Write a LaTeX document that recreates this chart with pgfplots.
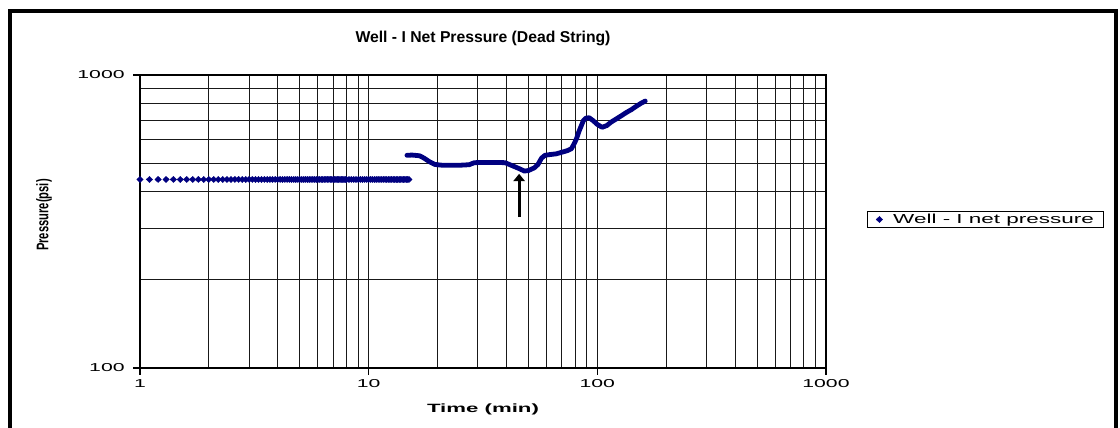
\documentclass[border=0pt]{standalone}
\usepackage{fontspec}
\setmainfont{Liberation Sans}
\usepackage{graphicx}
\usepackage{pgfplots}
\pgfplotsset{compat=1.18}
\usetikzlibrary{arrows.meta}
\definecolor{navy}{RGB}{0,0,128}

\begin{document}
\begin{tikzpicture}
\begin{axis}[
  scale only axis, width=514.5pt, height=219.75pt,
  xmode=log, ymode=log,
  xmin=1, xmax=1000, ymin=100, ymax=1000,
  xtick={1,10,100,1000}, xticklabels={1,10,100,1000},
  ytick={100,1000}, yticklabels={100,1000},
  minor xtick={2,3,...,9,20,30,...,90,200,300,...,900},
  minor ytick={200,300,...,900},
  grid=both,
  major grid style={black!90, line width=0.75pt},
  minor grid style={black!90, line width=0.75pt},
  axis line style={black, line width=0.8pt},
  tick align=outside, tick pos=left,
  major tick length=5pt, minor tick length=0pt,
  tick style={black, line width=0.8pt},
  /pgf/number format/assume math mode=true,
  ticklabel style={font=\fontsize{8.6}{10}\selectfont},
  xticklabel style={xscale=1.85},
  yticklabel style={xscale=1.85},
  every axis title shift=0pt,
  title={Well - I Net Pressure (Dead String)},
  title style={font=\bfseries\fontsize{11.8}{13}\selectfont,
    at={(axis description cs:0.5,1.1116)}, anchor=base},
  xlabel={\scalebox{1.85}[1]{Time (min)}},
  xlabel style={font=\bfseries\fontsize{9}{10}\selectfont,
    at={(axis description cs:0.5,-0.1502)}, anchor=base},
  ylabel={\scalebox{1}[1.5]{Pressure(psi)}},
  ylabel style={font=\bfseries\fontsize{8.4}{10}\selectfont,
    at={(axis description cs:-0.140,0.522)}, anchor=center},
  legend style={at={(axis description cs:1.0598,0.5068)}, anchor=west,
    draw=black, line width=0.75pt, fill=white,
    font=\fontsize{9.8}{11}\selectfont,
    inner xsep=6.5pt, inner ysep=1.2pt,
    nodes={inner sep=0.5pt}},
  legend cell align=left,
  legend image code/.code={\draw[#1] plot coordinates {(0pt,0pt)};
    \path (-2pt,0pt) (9.5pt,0pt);},
]
% early part of the record, constant net pressure
\addplot[only marks, mark=diamond*, mark size=2.3pt, color=navy,
  mark options={xscale=1.4, line width=0.3pt}] coordinates {
(1.0,440) (1.1,440) (1.2,440) (1.3,440) (1.4,440) (1.5,440) (1.6,440) (1.7,440)
(1.8,440) (1.9,440) (2.0,440) (2.1,440) (2.2,440) (2.3,440) (2.4,440) (2.5,440)
(2.6,440) (2.7,440) (2.8,440) (2.9,440) (3.0,440) (3.1,440) (3.2,440) (3.3,440)
(3.4,440) (3.5,440) (3.6,440) (3.7,440) (3.8,440) (3.9,440) (4.0,440) (4.1,440)
(4.2,440) (4.3,440) (4.4,440) (4.5,440) (4.6,440) (4.7,440) (4.8,440) (4.9,440)
(5.0,440) (5.1,440) (5.2,440) (5.3,440) (5.4,440) (5.5,440) (5.6,440) (5.7,440)
(5.8,440) (5.9,440) (6.0,440) (6.1,440) (6.2,440) (6.3,440) (6.4,440) (6.5,440)
(6.6,440) (6.7,440) (6.8,440) (6.9,440) (7.0,440) (7.1,440) (7.2,440) (7.3,440)
(7.4,440) (7.5,440) (7.6,440) (7.7,440) (7.8,440) (7.9,440) (8.0,440)
(8.2,440) (8.4,440) (8.6,440) (8.8,440)
(9.0,440) (9.2,440) (9.4,440) (9.6,440) (9.8,440) (10.0,440) (10.2,440) (10.4,440)
(10.6,440) (10.8,440) (11.0,440) (11.2,440) (11.4,440) (11.6,440) (11.8,440)
(12.0,440) (12.2,440) (12.4,440) (12.6,440) (12.8,440) (13.0,440) (13.2,440)
(13.4,440) (13.6,440) (13.8,440) (14.0,440) (14.2,440) (14.4,440) (14.6,440)
(14.8,440) (15.0,440)
};
\addlegendentry{\scalebox{1.72}[1]{Well - I net pressure}}
% later part, dense points drawn as a thick band
\addplot[navy, line width=3.6pt, line join=round, line cap=round, forget plot] coordinates {
(14.7,532) (15.5,533) (16.7,530) (17.5,520) (18.5,505) (19.5,495) (21,492)
(25,492) (27.5,494) (29,502) (32,503) (36,503) (39.5,502) (42,492) (45,481)
(48,470) (50,472) (53,482) (55,495) (57,520) (59,532) (62,535) (66,538)
(70,545) (74,552) (77,560) (79,580) (81,605) (83,640) (85,670) (87,700)
(89,712) (92,715) (96,698) (100,678) (105,663) (110,672) (115,691) (121,708)
(127,725) (134,745) (141,762) (148,782) (155,800) (162,815)
};
\draw[black, line width=2.3pt, -{Triangle[width=8.5pt,length=5.5pt]}]
  (axis cs:45.5,327) -- (axis cs:45.5,460);
\end{axis}
\begin{scope}[x=0.75pt, y=-0.75pt, shift={(-140,-368)}]
\draw[black, line width=3pt] (10.5,440) -- (10.5,11.5) -- (1115.5,11.5) -- (1115.5,440);
\pgfresetboundingbox
\path[use as bounding box] (0,0) rectangle (1120,428);
\end{scope}
\end{tikzpicture}
\end{document}
